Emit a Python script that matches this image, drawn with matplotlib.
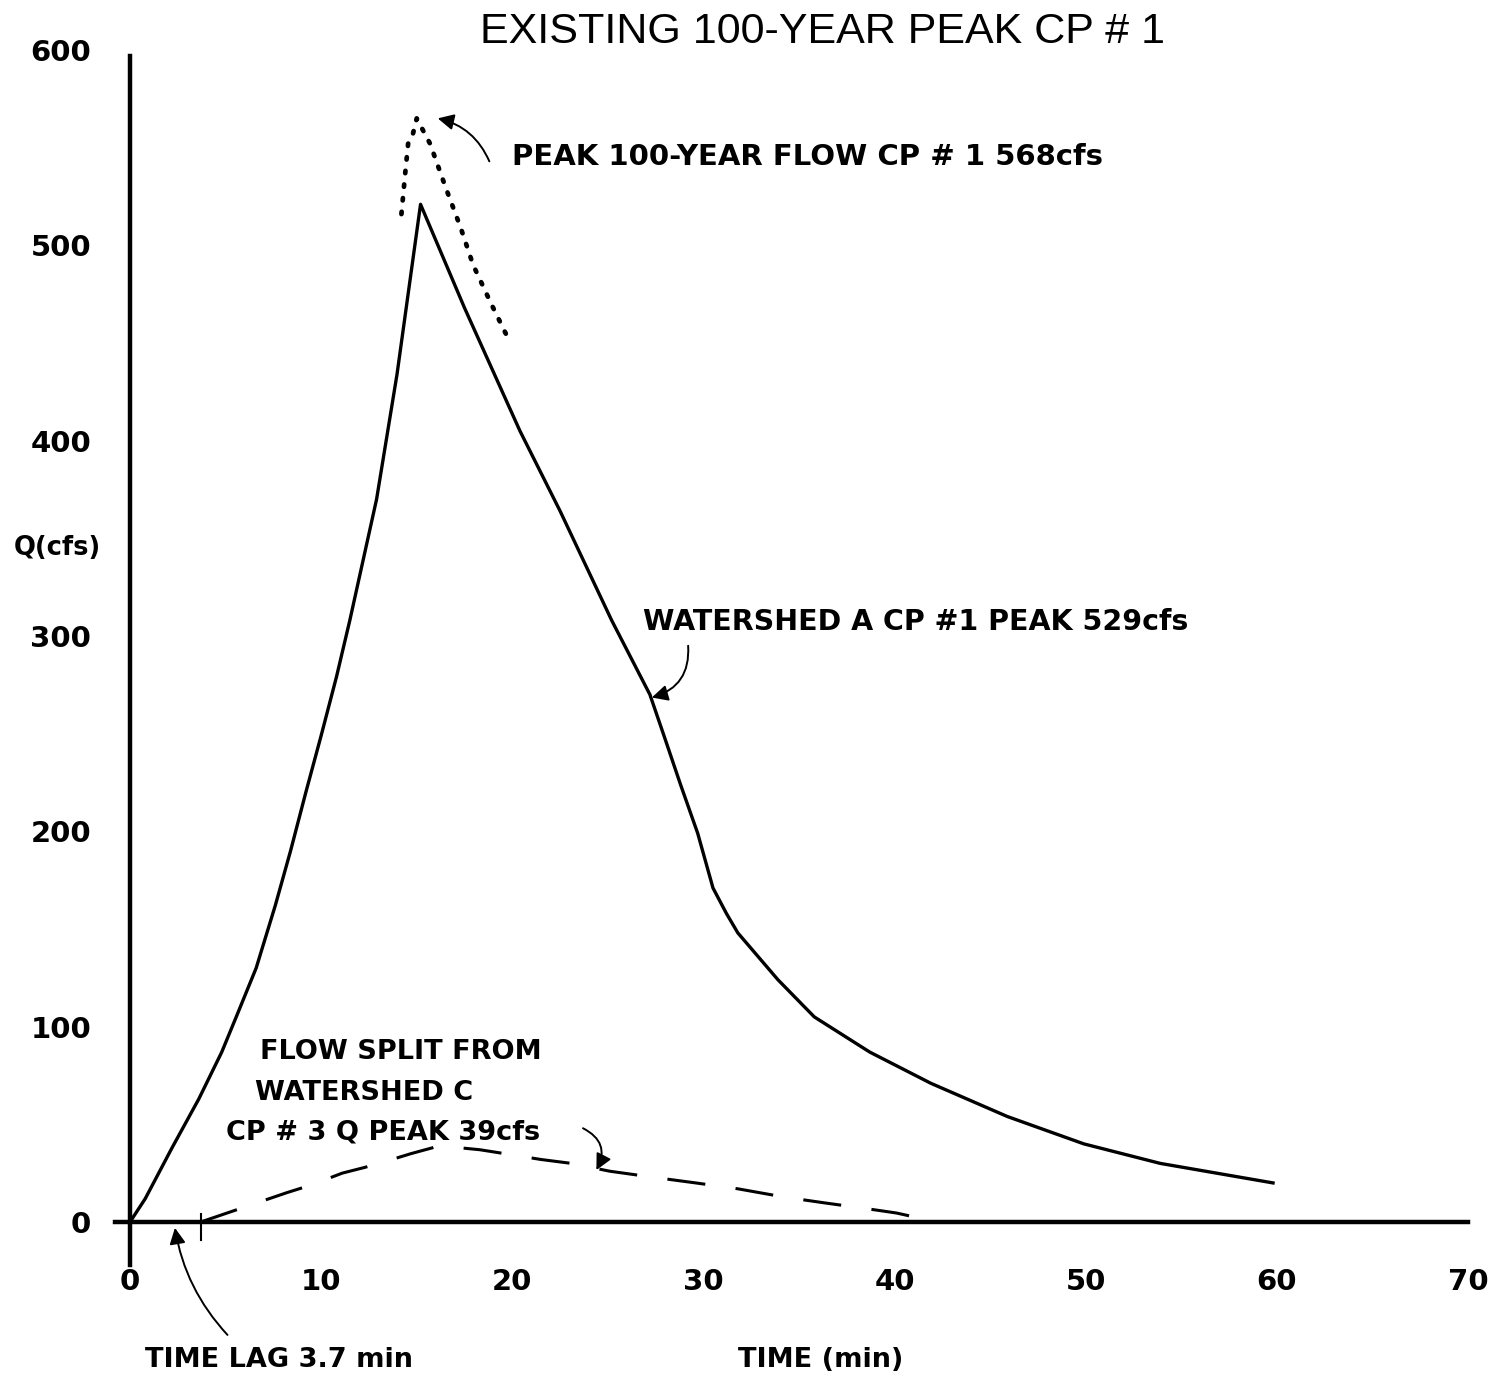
import numpy as np
import matplotlib
matplotlib.use("Agg")
import matplotlib.pyplot as plt

plt.rcParams['font.family'] = ['DejaVu Sans']

# watershed A hydrograph at CP #1 (solid)
time_a = [0, 0.8, 2.2, 3.6, 4.8, 5.6, 6.6, 7.6, 8.4, 9.2, 10.0, 10.8, 11.5, 12.9, 13.97, 15.2,
          17.5, 20.4, 22.5, 25.2, 27.2, 27.9, 28.8, 29.7, 30.5, 31.2, 31.8, 33.9, 35.8,
          38.7, 41.9, 45.9, 49.9, 53.9, 59.8]
flow_a = [0, 12, 38, 63, 87, 106, 130, 162, 190, 220, 249, 279, 308, 370, 434, 521,
          468, 405, 364, 308, 270, 250, 224, 199, 171, 158, 148, 124, 105,
          87, 71, 54, 40, 30, 20]

# combined peak at CP #1 (dotted)
time_peak = [14.2, 14.4, 14.55, 14.8, 15.0, 15.7, 16.5, 17.3, 17.95, 18.9, 19.9]
flow_peak = [516, 537, 552, 557, 565, 552, 530, 509, 490, 470, 450]

# flow split from watershed C, CP #3 (dashed)
time_c = [3.7, 6.4, 8.2, 9.5, 11.1, 12.3, 13.7, 14.7, 16.2, 18.3, 19.6, 21.5, 23.1,
          25.1, 27.3, 29.6, 31.8, 34.2, 36.4, 38.7, 40.1, 41.3]
flow_c = [0, 9, 15, 19, 25, 28, 32, 35, 39, 37, 35, 32, 30,
          26, 23, 20, 17, 12.8, 9.7, 6.6, 4.6, 2]

time_lag = 3.7
xticks = [0, 10, 20, 30, 40, 50, 60, 70]
yticks = [0, 100, 200, 300, 400, 500, 600]

fig = plt.figure(figsize=(14.98, 13.77), dpi=100)
ax = fig.add_axes([130 / 1498, 155 / 1377, 1338 / 1498, 1172 / 1377])
ax.set_xlim(0, 70)
ax.set_ylim(0, 600)
for s in ax.spines.values():
    s.set_visible(False)

# axis lines
ax.axhline(0, xmin=-0.8 / 70, xmax=1.0, color='black', lw=3.2, clip_on=False)
ax.axvline(0, ymin=-22 / 600, ymax=597 / 600, color='black', lw=3.2, clip_on=False)

ax.set_xticks(xticks)
ax.set_yticks(yticks)
ax.tick_params(length=0, labelsize=21)
ax.tick_params(axis='x', pad=33)
ax.tick_params(axis='y', pad=28)
for lab in ax.get_xticklabels() + ax.get_yticklabels():
    lab.set_fontweight('bold')

ax.plot(time_a, flow_a, color='black', lw=2.4, solid_joinstyle='round')
ax.plot(time_peak, flow_peak, color='black', lw=3.4, linestyle=(0, (0.5, 2.4)),
        dash_capstyle='round')
ax.plot(time_c, flow_c, color='black', lw=2.2, linestyle=(0, (12.5, 10)))
ax.plot([time_lag, time_lag], [4, -9], color='black', lw=1.5, clip_on=False)

fig.text(822 / 1498, 1 - 32 / 1377, 'EXISTING 100-YEAR PEAK CP # 1',
         ha='center', va='center', fontsize=31, family='Liberation Sans')

bold = dict(fontweight='bold', va='center', clip_on=False)
ax.text(20.0, 545, 'PEAK 100-YEAR FLOW CP # 1 568cfs', fontsize=21, **bold)
ax.text(26.85, 307, 'WATERSHED A CP #1 PEAK 529cfs', fontsize=20.5, **bold)
ax.text(6.8, 87, 'FLOW SPLIT FROM', fontsize=19.5, **bold)
ax.text(6.54, 66, 'WATERSHED C', fontsize=19.5, **bold)
ax.text(5.02, 46, 'CP # 3 Q PEAK 39cfs', fontsize=19.5, **bold)
ax.text(0.8, -70.6, 'TIME LAG 3.7 min', fontsize=19.5, **bold)
ax.text(31.8, -70.6, 'TIME (min)', fontsize=19.5, **bold)
ax.text(-6.07, 345, 'Q(cfs)', fontsize=18.5, **bold)

arrow = dict(arrowstyle='-|>', color='black', lw=1.4, mutation_scale=24, shrinkA=0, shrinkB=0)
ax.annotate('', xy=(16.1, 565), xytext=(18.8, 543),
            arrowprops=dict(connectionstyle='arc3,rad=0.25', **arrow), annotation_clip=False)
ax.annotate('', xy=(27.3, 268.5), xytext=(29.2, 295),
            arrowprops=dict(connectionstyle='arc3,rad=-0.4', **arrow), annotation_clip=False)
ax.annotate('', xy=(24.4, 26.6), xytext=(23.7, 48),
            arrowprops=dict(connectionstyle='arc3,rad=-0.5', **arrow), annotation_clip=False)
ax.annotate('', xy=(2.35, -3), xytext=(5.1, -57.8),
            arrowprops=dict(connectionstyle='arc3,rad=-0.15', **arrow), annotation_clip=False)

fig.savefig('out.png', dpi=100)
